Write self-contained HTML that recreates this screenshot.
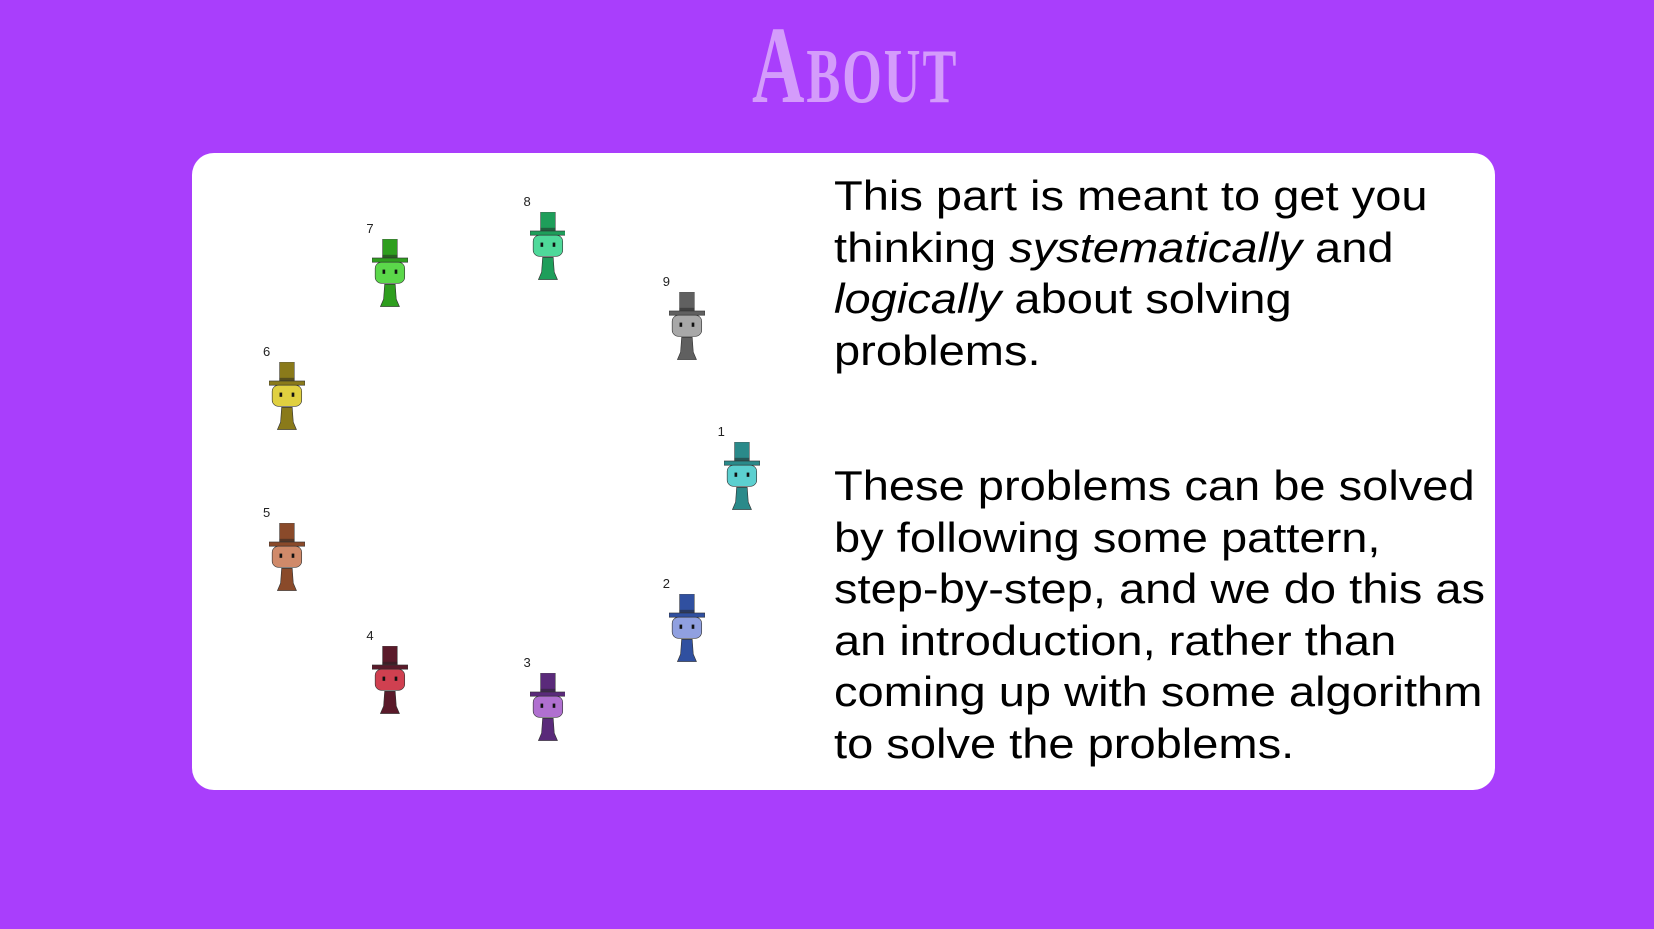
<!DOCTYPE html>
<html><head><meta charset="utf-8"><style>
html,body{margin:0;padding:0}
body{width:1654px;height:929px;background:#a93efc;position:relative;overflow:hidden;font-family:"Liberation Sans",sans-serif}
.title{position:absolute;left:752px;top:10px;color:#d49cfb;font-family:"Liberation Serif",serif;font-weight:bold;font-size:110px;line-height:110px;transform:scaleX(0.66);transform-origin:left top;white-space:nowrap;font-variant:small-caps;letter-spacing:3px}
.card{position:absolute;left:192px;top:153px;width:1303px;height:637px;background:#fff;border-radius:22px}
.txt{position:absolute;left:834px;font-size:42px;line-height:51.5px;color:#000;white-space:nowrap;transform:scaleX(1.12);transform-origin:left top}
.fig{position:absolute}
.lbl{position:absolute;font-size:13px;color:#222}
</style></head><body>
<div class="title">About</div>
<div class="card"></div>
<div class="txt" style="top:170px">This part is meant to get you<br>thinking <i>systematically</i> and<br><i>logically</i> about solving<br>problems.</div>
<div class="txt" style="top:460px">These problems can be solved<br>by following some pattern,<br>step-by-step, and we do this as<br>an introduction, rather than<br>coming up with some algorithm<br>to solve the problems.</div>
<div id="figs"></div>
<script>
var F=[
[7,370,227,'#2e9e1e','#5bd84a'],
[8,519,201,'#1e9e5a','#4fd99a'],
[9,651,277,'#606060','#a8a8a8'],
[6,272,343,'#8a7a1a','#e0d040'],
[1,703,419,'#2a8a8a','#5cd0d0'],
[5,272,496,'#8a4a2a','#d08a6a'],
[2,651,563,'#3050a0','#90a0e0'],
[4,370,612,'#5a1a2a','#d04050'],
[3,519,638,'#5a2a7a','#b070d0']];
var s=1.055,h='';
F.forEach(function(f){
 var cx=f[1]*s,ty=f[2]*s,c=f[3],hd=f[4];
 var w=34*s,ht=66*s;
 h+='<div class="lbl" style="left:'+(cx-24)+'px;top:'+(ty-18)+'px">'+f[0]+'</div>';
 h+='<svg class="fig" style="left:'+(cx-w/2)+'px;top:'+ty+'px" width="'+w+'" height="'+ht+'" viewBox="0 0 34 66">'+
 '<rect x="10" y="0" width="14" height="18" fill="'+c+'" stroke="#555" stroke-width="0.6"/>'+
 '<rect x="10" y="15" width="14" height="3" fill="#222" opacity="0.5"/>'+
 '<rect x="0" y="18" width="34" height="4" fill="'+c+'" stroke="#333" stroke-width="0.6"/>'+
 '<rect x="3" y="22" width="28" height="20" rx="6" fill="'+hd+'" stroke="#333" stroke-width="0.6"/>'+
 '<rect x="10" y="29" width="2.5" height="4" fill="#111"/><rect x="21.5" y="29" width="2.5" height="4" fill="#111"/>'+
 '<polygon points="12,43 22,43 23,57 26,64 8,64 11,57" fill="'+c+'" stroke="#333" stroke-width="0.6"/>'+
 '</svg>';
});
document.getElementById('figs').innerHTML=h;
</script>
</body></html>
